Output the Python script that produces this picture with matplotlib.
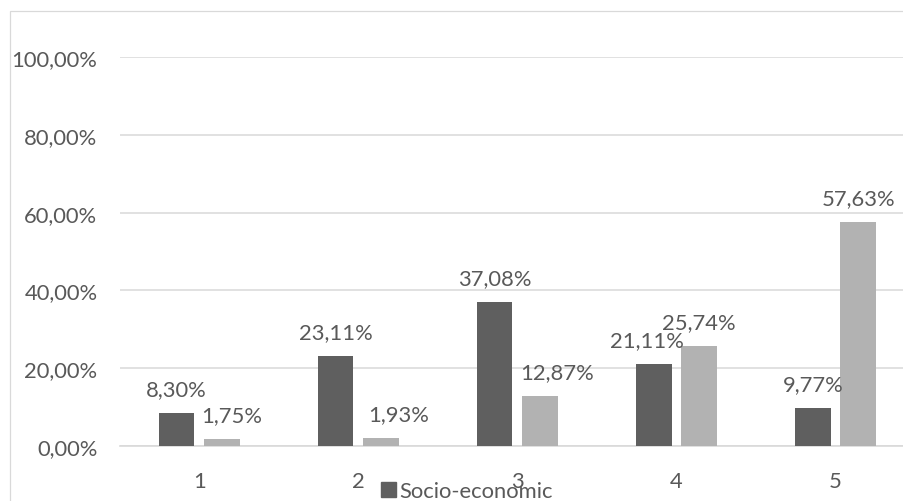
import matplotlib.pyplot as plt
import matplotlib.patches as mpatches
import numpy as np

categories = ['1', '2', '3', '4', '5']
socio_economic = [0.0830, 0.2311, 0.3708, 0.2111, 0.0977]
second_series = [0.0175, 0.0193, 0.1287, 0.2574, 0.5763]
y_ticks = [0.0, 0.2, 0.4, 0.6, 0.8, 1.0]

dark = '#5F5F5F'
light = '#B2B2B2'
grid_col = '#D9D9D9'
text_col = '#595959'

plt.rcParams['font.family'] = ['Lato', 'DejaVu Sans']
fs = 15.8

# label nudges (pixels) to mimic the Excel placement
dark_dx = [0, 0, 0, -7, 0]
light_dx = [10, 18, 17, 0, 0]


def fmt(v):
    return ('%.2f%%' % (v * 100)).replace('.', ',')


fig = plt.figure(figsize=(9.04, 5.02), dpi=100)
ax = fig.add_axes([119.65 / 904, 55.3 / 502, 795.35 / 904, 388.3 / 502])

x = np.arange(1, len(categories) + 1)
w = 0.223
off = 0.142
b1 = ax.bar(x - off, socio_economic, w, color=dark, zorder=3)
b2 = ax.bar(x + off, second_series, w, color=light, zorder=3)

for i, v in enumerate(socio_economic):
    ax.annotate(fmt(v), (x[i] - off, v), xytext=(dark_dx[i] * 0.72, 13),
                textcoords='offset points', ha='center', va='baseline',
                fontsize=fs, color=text_col)
for i, v in enumerate(second_series):
    ax.annotate(fmt(v), (x[i] + off, v), xytext=(light_dx[i] * 0.72, 13),
                textcoords='offset points', ha='center', va='baseline',
                fontsize=fs, color=text_col)

ax.set_xlim(0.5, 5.5)
ax.set_ylim(0, 1)
ax.set_xticks(x)
ax.set_xticklabels(categories)
ax.set_yticks(y_ticks)
ax.set_yticklabels([fmt(t) for t in y_ticks])
ax.tick_params(axis='both', length=0, labelsize=fs, labelcolor=text_col)
ax.tick_params(axis='y', pad=16)
ax.tick_params(axis='x', pad=18)

ax.yaxis.grid(True, color=grid_col, linewidth=1.1, zorder=0)
for s in ['top', 'right', 'left']:
    ax.spines[s].set_visible(False)
ax.spines['bottom'].set_color(grid_col)
ax.spines['bottom'].set_linewidth(1.2)

# outer chart border (cropped on right and bottom)
border = mpatches.Rectangle((9.5 / 904, -0.1), 1.2, (502 - 11.7) / 502 + 0.1,
                            transform=fig.transFigure, fill=False,
                            edgecolor=grid_col, linewidth=0.9)
fig.add_artist(border)

handle = mpatches.Patch(color=dark, label='Socio-economic')
fig.legend(handles=[handle], loc='upper left',
           bbox_to_anchor=(381 / 904, (502 - 482) / 502),
           frameon=False, fontsize=fs, labelcolor=text_col,
           borderpad=0, borderaxespad=0, handlelength=0.68,
           handleheight=0.68, handletextpad=0.15)

fig.savefig('out.png', dpi=100)
